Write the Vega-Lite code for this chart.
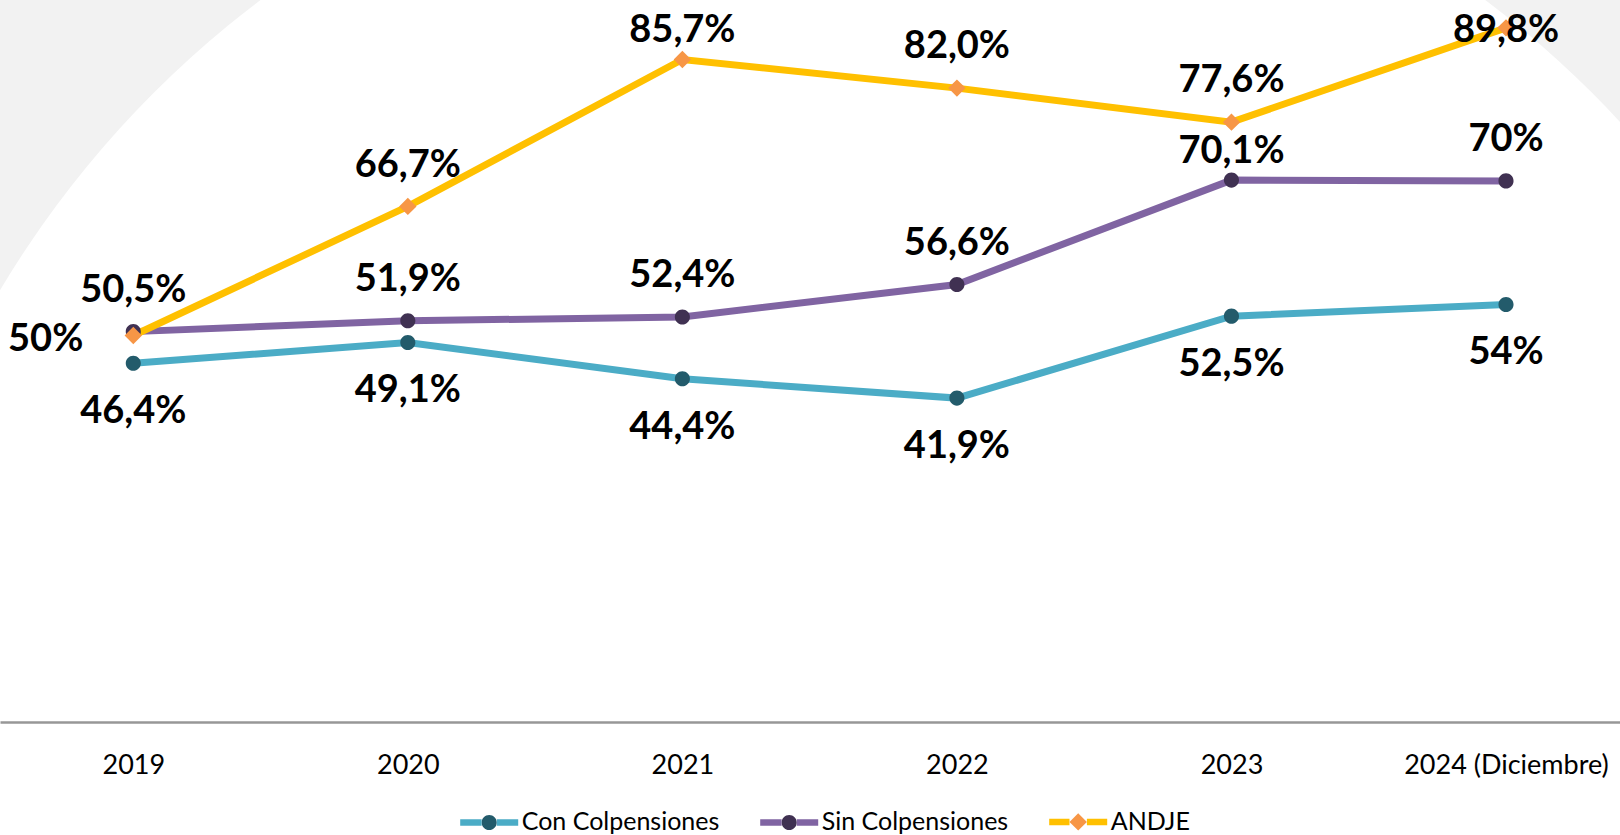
{
  "$schema": "https://vega.github.io/schema/vega-lite/v6.json",
  "width": 1620,
  "height": 722,
  "autosize": {"type": "none"},
  "padding": {"left": 0, "top": 0, "right": 0, "bottom": 113},
  "background": "#f2f2f2",
  "config": {"view": {"stroke": null}, "font": "Lato"},
  "data": {
    "values": [
      {"anio": 2019, "serie": "Con Colpensiones", "valor": 46.4, "etiqueta": "46,4%"},
      {"anio": 2020, "serie": "Con Colpensiones", "valor": 49.1, "etiqueta": "49,1%"},
      {"anio": 2021, "serie": "Con Colpensiones", "valor": 44.4, "etiqueta": "44,4%"},
      {"anio": 2022, "serie": "Con Colpensiones", "valor": 41.9, "etiqueta": "41,9%"},
      {"anio": 2023, "serie": "Con Colpensiones", "valor": 52.5, "etiqueta": "52,5%"},
      {"anio": 2024, "serie": "Con Colpensiones", "valor": 54, "etiqueta": "54%"},
      {"anio": 2019, "serie": "Sin Colpensiones", "valor": 50.5, "etiqueta": "50,5%"},
      {"anio": 2020, "serie": "Sin Colpensiones", "valor": 51.9, "etiqueta": "51,9%"},
      {"anio": 2021, "serie": "Sin Colpensiones", "valor": 52.4, "etiqueta": "52,4%"},
      {"anio": 2022, "serie": "Sin Colpensiones", "valor": 56.6, "etiqueta": "56,6%"},
      {"anio": 2023, "serie": "Sin Colpensiones", "valor": 70.1, "etiqueta": "70,1%"},
      {"anio": 2024, "serie": "Sin Colpensiones", "valor": 70, "etiqueta": "70%"},
      {"anio": 2019, "serie": "ANDJE", "valor": 50, "etiqueta": "50%"},
      {"anio": 2020, "serie": "ANDJE", "valor": 66.7, "etiqueta": "66,7%"},
      {"anio": 2021, "serie": "ANDJE", "valor": 85.7, "etiqueta": "85,7%"},
      {"anio": 2022, "serie": "ANDJE", "valor": 82.0, "etiqueta": "82,0%"},
      {"anio": 2023, "serie": "ANDJE", "valor": 77.6, "etiqueta": "77,6%"},
      {"anio": 2024, "serie": "ANDJE", "valor": 89.8, "etiqueta": "89,8%"}
    ]
  },
  "encoding": {
    "x": {
      "field": "anio",
      "type": "quantitative",
      "scale": {"domain": [2018.5145, 2024.4152], "nice": false, "zero": false},
      "axis": {
        "values": [2019, 2020, 2021, 2022, 2023, 2024],
        "format": "d",
        "labelExpr": "datum.value == 2024 ? '2024 (Diciembre)' : datum.label",
        "title": null,
        "grid": false,
        "ticks": false,
        "tickSize": 0,
        "domainColor": "#979797",
        "domainWidth": 2.5,
        "labelFont": "Lato",
        "labelFontSize": 27,
        "labelColor": "#000000",
        "labelPadding": 43.6,
        "labelBaseline": "middle",
        "labelFlush": false,
        "labelOverlap": false,
        "labelBound": false,
        "labelLimit": 500,
        "zindex": 1
      }
    },
    "y": {
      "field": "valor",
      "type": "quantitative",
      "scale": {"domain": [0, 93.4], "nice": false, "zero": true},
      "axis": null
    }
  },
  "layer": [
    {
      "transform": [{"filter": "datum.anio == 2019 && datum.serie == 'ANDJE'"}],
      "mark": {"type": "circle", "color": "#ffffff", "fill": "#ffffff", "opacity": 1, "fillOpacity": 1, "size": 4137156, "clip": false},
      "encoding": {"x": {"datum": 2021.694, "type": "quantitative"}, "y": {"datum": -11.64, "type": "quantitative"}}
    },
    {
      "mark": {"type": "line", "strokeWidth": 7},
      "encoding": {
        "stroke": {
          "field": "serie",
          "type": "nominal",
          "scale": {"domain": ["Con Colpensiones", "Sin Colpensiones", "ANDJE"], "range": ["#4BACC6", "#8064A2", "#FFC000"]},
          "legend": {
            "orient": "none", "legendX": 456.7, "legendY": 789, "direction": "horizontal", "title": null,
            "symbolSize": 3364, "symbolStrokeWidth": 6.5, "symbolDash": [0, 52, 1000, 0],
            "labelFont": "Lato", "labelFontSize": 25, "labelColor": "#000000", "labelOffset": 0,
            "columnPadding": 27, "labelLimit": 400, "padding": 0, "zindex": 2
          }
        }
      }
    },
    {
      "mark": {"type": "point", "filled": true, "opacity": 1, "size": 3364},
      "encoding": {
        "fill": {
          "field": "serie",
          "type": "nominal",
          "scale": {"domain": ["Con Colpensiones", "Sin Colpensiones", "ANDJE"], "range": ["#235B6B", "#403152", "#F79646"]},
          "legend": {
            "orient": "none", "legendX": 456.7, "legendY": 789, "direction": "horizontal", "title": null,
            "symbolSize": 3364, "symbolStrokeWidth": 6.5, "symbolDash": [0, 52, 1000, 0],
            "labelFont": "Lato", "labelFontSize": 25, "labelColor": "#000000", "labelOffset": 0,
            "columnPadding": 27, "labelLimit": 400, "padding": 0, "zindex": 2
          }
        },
        "shape": {
          "field": "serie",
          "type": "nominal",
          "scale": {
            "domain": ["Con Colpensiones", "Sin Colpensiones", "ANDJE"],
            "range": [
              "M0.26,0L1,0L0.26,0L1,0L0.26,0M-0.26,0L-1,0L-0.26,0L-1,0L-0.26,0M0.26,0A0.26,0.26,0,1,1,-0.26,0A0.26,0.26,0,1,1,0.26,0Z",
              "M0.26,0L1,0L0.26,0L1,0L0.26,0M-0.26,0L-1,0L-0.26,0L-1,0L-0.26,0M0.26,0A0.26,0.26,0,1,1,-0.26,0A0.26,0.26,0,1,1,0.26,0Z",
              "M0.3,0L1,0L0.3,0L1,0L0.3,0M-0.3,0L-1,0L-0.3,0L-1,0L-0.3,0M0,-0.3L0.3,0L0,0.3L-0.3,0Z"
            ]
          },
          "legend": {
            "orient": "none", "legendX": 456.7, "legendY": 789, "direction": "horizontal", "title": null,
            "symbolSize": 3364, "symbolStrokeWidth": 6.5, "symbolDash": [0, 52, 1000, 0],
            "labelFont": "Lato", "labelFontSize": 25, "labelColor": "#000000", "labelOffset": 0,
            "columnPadding": 27, "labelLimit": 400, "padding": 0, "zindex": 2
          }
        }
      }
    },
    {
      "transform": [{"filter": "datum.serie != 'Con Colpensiones' && !(datum.serie == 'ANDJE' && (datum.anio == 2019 || datum.anio == 2021 || datum.anio == 2024)) && !(datum.serie == 'Sin Colpensiones' && datum.anio == 2023)"}],
      "mark": {"type": "text", "font": "Lato", "fontWeight": "bold", "fontSize": 38, "color": "#000000", "baseline": "middle", "align": "center", "dy": -40.7},
      "encoding": {"text": {"field": "etiqueta", "type": "nominal"}}
    },
    {
      "transform": [{"filter": "datum.serie == 'Con Colpensiones'"}],
      "mark": {"type": "text", "font": "Lato", "fontWeight": "bold", "fontSize": 38, "color": "#000000", "baseline": "middle", "align": "center", "dy": 48.8},
      "encoding": {"text": {"field": "etiqueta", "type": "nominal"}}
    },
    {
      "transform": [{"filter": "datum.serie == 'ANDJE' && datum.anio == 2021"}],
      "mark": {"type": "text", "font": "Lato", "fontWeight": "bold", "fontSize": 38, "color": "#000000", "baseline": "middle", "align": "center", "dy": -28.7},
      "encoding": {"text": {"field": "etiqueta", "type": "nominal"}}
    },
    {
      "transform": [{"filter": "datum.serie == 'Sin Colpensiones' && datum.anio == 2023"}],
      "mark": {"type": "text", "font": "Lato", "fontWeight": "bold", "fontSize": 38, "color": "#000000", "baseline": "middle", "align": "center", "dy": -27.7},
      "encoding": {"text": {"field": "etiqueta", "type": "nominal"}}
    },
    {
      "transform": [{"filter": "datum.serie == 'ANDJE' && datum.anio == 2024"}],
      "mark": {"type": "text", "font": "Lato", "fontWeight": "bold", "fontSize": 38, "color": "#000000", "baseline": "middle", "align": "center", "dy": 3},
      "encoding": {"text": {"field": "etiqueta", "type": "nominal"}}
    },
    {
      "transform": [{"filter": "datum.serie == 'ANDJE' && datum.anio == 2019"}],
      "mark": {"type": "text", "font": "Lato", "fontWeight": "bold", "fontSize": 38, "color": "#000000", "baseline": "middle", "align": "right", "dx": -50, "dy": 4.6},
      "encoding": {"text": {"field": "etiqueta", "type": "nominal"}}
    }
  ]
}
